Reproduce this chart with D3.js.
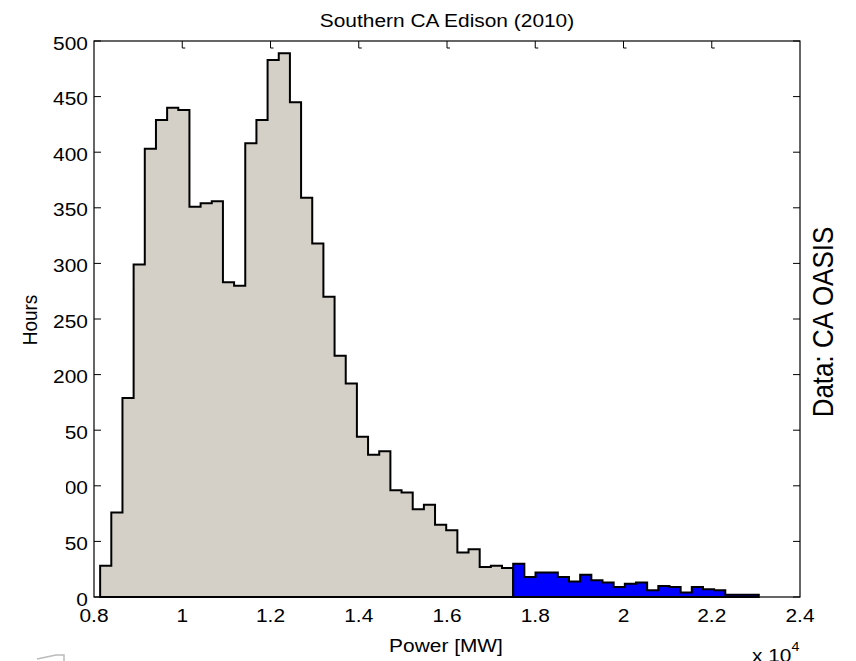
<html>
<head>
<script type="text/javascript" src="https://cdn.jsdelivr.net/npm/d3@7"></script>
<style>
  body { margin: 0; background: #fff; }
  text { font-family: Arial, "Liberation Sans", sans-serif; fill: #000; }
</style>
</head>
<body>
<script type="text/javascript">

// histogram of hourly load, bins in MW
var binStart = 8139;
var binWidth = 253;
var grayCounts = [28, 76, 179, 299, 403, 429, 440, 438, 351, 354, 356, 283, 280, 408,
                  429, 483, 489, 445, 359, 318, 270, 217, 192, 144, 128, 131, 96, 94,
                  79, 83, 65, 60, 40, 43, 27, 28, 26];
var blueCounts = [30, 18, 22, 22, 18, 14, 20, 15, 13, 9, 12, 13, 6, 10, 9, 4, 9, 7, 6, 2, 2, 2];

var xTicks = [8000, 10000, 12000, 14000, 16000, 18000, 20000, 22000, 24000];
var xTickLabels = ["0.8", "1", "1.2", "1.4", "1.6", "1.8", "2", "2.2", "2.4"];
var yTicks = [0, 50, 100, 150, 200, 250, 300, 350, 400, 450, 500];

var W = 856, H = 661;
// plot box (note: "top" is taken by window.top)
var pL = 94, pR = 800, pT = 41, pB = 597;
var sx = 1.1; // text is a bit wider than tall in the original
var fs = 19;

var svg = d3.select("body").append("svg").attr("width", W).attr("height", H);

var x = d3.scaleLinear().domain([8000, 24000]).range([pL, pR]);
var y = d3.scaleLinear().domain([0, 500]).range([pB, pT]);

function label(str, px, py, size, anchor, rot){
  var g = svg.append("g").attr("transform", "translate(" + px + "," + py + ")" + (rot ? " rotate(" + rot + ")" : "") + " scale(" + (rot ? "1," + sx : sx + ",1") + ")");
  return g.append("text").attr("text-anchor", anchor).style("font-size", size + "px").text(str);
}

// ticks (under the bars)
var ticks = svg.append("g").attr("stroke", "#000").attr("stroke-width", 1).attr("fill", "none");
yTicks.forEach(function(t){
  ticks.append("line").attr("x1", pL).attr("x2", pL + 7).attr("y1", y(t)).attr("y2", y(t));
  ticks.append("line").attr("x1", pR - 7).attr("x2", pR).attr("y1", y(t)).attr("y2", y(t));
});
xTicks.forEach(function(t){
  if(t == 8000 || t == 24000) return;
  ticks.append("path").attr("d", "M" + x(t) + "," + pT + "V" + (pT + 7) + "h3");
  ticks.append("line").attr("x1", x(t)).attr("x2", x(t)).attr("y1", pB).attr("y2", pB - 6);
});

// stairs outline for a run of bins
function stairs(start, counts){
  var pts = [[start, 0]];
  for(var i = 0; i < counts.length; i++){
    pts.push([start + i * binWidth, counts[i]]);
  }
  pts.push([start + counts.length * binWidth, counts[counts.length - 1]]);
  pts.push([start + counts.length * binWidth, 0]);
  return pts;
}
var line = d3.line().x(function(d){ return x(d[0]); }).y(function(d){ return y(d[1]); }).curve(d3.curveStepAfter);

var blueStart = binStart + grayCounts.length * binWidth;
svg.append("path").attr("d", line(stairs(binStart, grayCounts)) + "Z")
   .attr("fill", "#d4d0c8").attr("stroke", "#000").attr("stroke-width", 2);
svg.append("path").attr("d", line(stairs(blueStart, blueCounts)) + "Z")
   .attr("fill", "#0000ff").attr("stroke", "#000").attr("stroke-width", 2);

// axes box
svg.append("rect").attr("x", pL).attr("y", pT).attr("width", pR - pL).attr("height", pB - pT)
   .attr("fill", "none").attr("stroke", "#000").attr("stroke-width", 1.2);

// tick labels
yTicks.forEach(function(t){
  label(String(t), pL - 6, y(t) + 8.5, fs, "end");
});
xTicks.forEach(function(t, i){
  label(xTickLabels[i], x(t), 622, fs, "middle");
});

// the 100 and 150 labels are partly wiped out in the original
svg.append("rect").attr("x", 30).attr("y", 418).attr("width", 36).attr("height", 80).attr("fill", "#fff");

label("Southern CA Edison (2010)", (pL + pR) / 2, 27, fs, "middle");
label("Power [MW]", 446, 652, fs, "middle");
label("Hours", 37, 320, fs, "middle", -90);
label("Data: CA OASIS", 833, 322, 26, "middle", -90);

var xl = label("x 10", 752, 662, fs, "start");
xl.append("tspan").attr("dy", -11).style("font-size", "13px").text("4");

// stray pen mark at lower left
svg.append("path").attr("d", "M37,659 L56,655 L64,655 L64,661").attr("fill", "none")
   .attr("stroke", "#bbb").attr("stroke-width", 1.5);

</script>
</body>
</html>
